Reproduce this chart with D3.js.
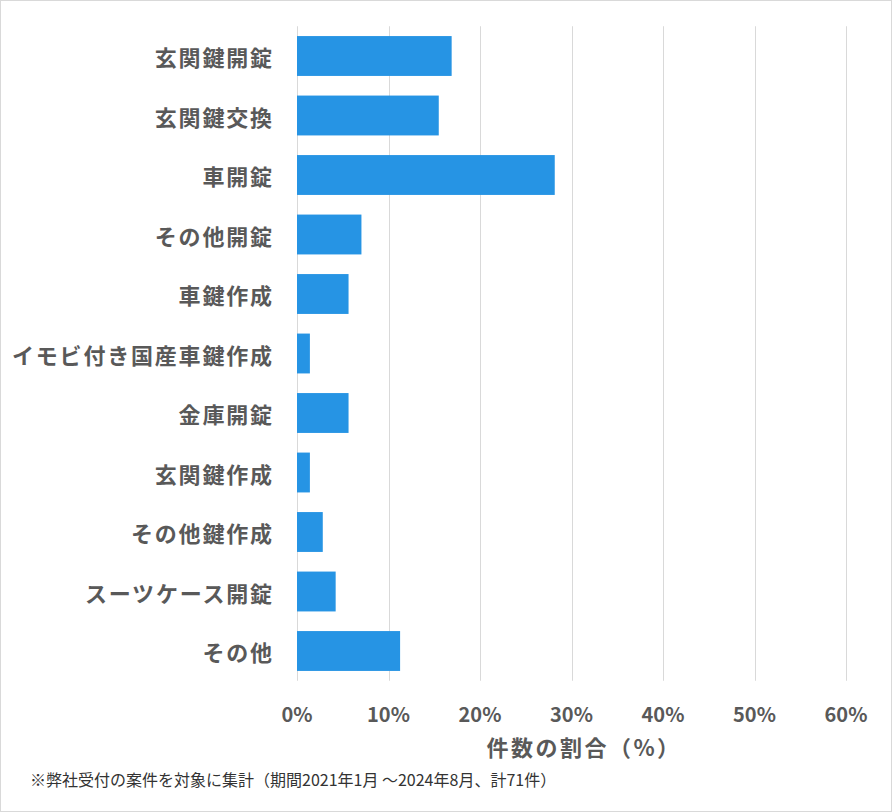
<!DOCTYPE html>
<html><head><meta charset="utf-8">
<script src="https://cdn.jsdelivr.net/npm/d3@7"></script>
<style>
html,body{margin:0;padding:0;background:#fff;}
svg text{font-family:"Noto Sans CJK JP","Noto Sans",sans-serif;}
</style></head>
<body>
<svg id="chart" width="892" height="812"></svg>
<script>
const categories = ["玄関鍵開錠","玄関鍵交換","車開錠","その他開錠","車鍵作成","イモビ付き国産車鍵作成","金庫開錠","玄関鍵作成","その他鍵作成","スーツケース開錠","その他"];
const counts = [12,11,20,5,4,1,4,1,2,3,8];
const total = 71;
const values = counts.map(c => c / total * 100);
const tickValues = [0,10,20,30,40,50,60];
const axisTitle = "件数の割合（%）";
const footnote = "※弊社受付の案件を対象に集計（期間2021年1月 ～2024年8月、計71件）";

(function(){
const svg = d3.select("#chart");
svg.append("rect").attr("x",0.5).attr("y",0.5).attr("width",891).attr("height",811)
  .attr("fill","#fff").attr("stroke","#d9d9d9");

const pLeft = 297, pRight = 846, pTop = 26.25, pBottom = 680.75;
const x = d3.scaleLinear().domain([0,60]).range([pLeft,pRight]);
const y = d3.scaleBand().domain(categories).range([pTop,pBottom]).paddingInner(0.33).paddingOuter(0.165);

svg.append("g").selectAll("line").data(tickValues).join("line")
  .attr("x1",d=>Math.round(x(d))+0.5).attr("x2",d=>Math.round(x(d))+0.5)
  .attr("y1",pTop).attr("y2",pBottom)
  .attr("stroke","#d9d9d9").attr("stroke-width",1);

svg.append("g").selectAll("rect").data(categories).join("rect")
  .attr("x",x(0)).attr("y",d=>y(d))
  .attr("width",(d,i)=>x(values[i])-x(0)).attr("height",y.bandwidth())
  .attr("fill","#2694E4");

svg.append("g").selectAll("text").data(categories).join("text")
  .attr("x",273.8).attr("y",d=>y(d)+y.bandwidth()/2)
  .attr("text-anchor","end").attr("dominant-baseline","central")
  .attr("font-size",22).attr("letter-spacing",1.8).attr("font-weight","bold").attr("fill","#595959")
  .text(d=>d);

svg.append("g").selectAll("text").data(tickValues).join("text")
  .attr("x",d=>x(d)).attr("y",713)
  .attr("text-anchor","middle").attr("dominant-baseline","central")
  .attr("font-size",20).attr("font-weight","bold").attr("fill","#595959")
  .text(d=>d+"%");

svg.append("text").attr("x",584).attr("y",746)
  .attr("text-anchor","middle").attr("dominant-baseline","central")
  .attr("font-size",22).attr("letter-spacing",2.5).attr("font-weight","bold").attr("fill","#595959")
  .text(axisTitle);

svg.append("text").attr("x",30).attr("y",779)
  .attr("dominant-baseline","central")
  .attr("font-size",16).attr("fill","#333")
  .text(footnote);
})();
</script>
</body></html>
